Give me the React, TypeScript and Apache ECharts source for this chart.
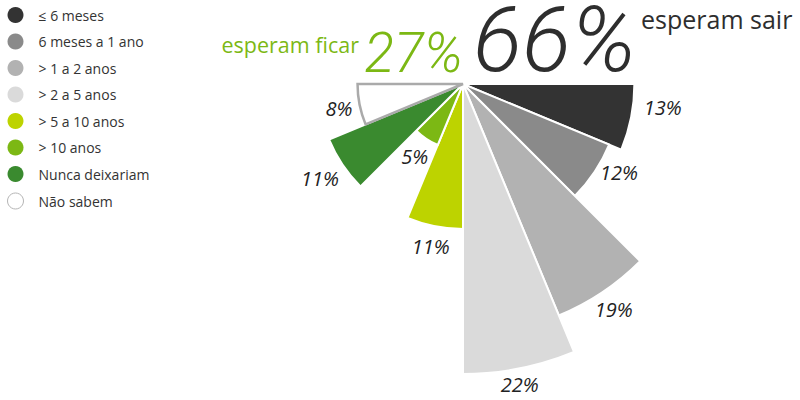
import React, { useEffect, useRef } from "react";
import * as echarts from "echarts";

const categories = [
  "≤ 6 meses",
  "6 meses a 1 ano",
  "> 1 a 2 anos",
  "> 2 a 5 anos",
  "> 5 a 10 anos",
  "> 10 anos",
  "Nunca deixariam",
  "Não sabem",
];
const values = [13, 12, 19, 22, 11, 5, 11, 8];
const colors = ["#333333", "#8a8a8a", "#b2b2b2", "#dadada", "#bdd300", "#7cb814", "#3a8a2f", "#ffffff"];
// empty upper half of the circle (the chart is a half rose)
const emptySlots = ["e1", "e2", "e3", "e4", "e5", "e6", "e7", "e8"];
const leaveTotal = "66%";
const stayTotal = "27%";
const leaveText = "esperam sair";
const stayText = "esperam ficar";

const FONT = "'Open Sans', 'Noto Sans', sans-serif";
const BIG = "Roboto, 'Open Sans', sans-serif";
const GREEN = "#7cb814";
const DARK = "#2e2e2e";

export default function App() {
  const ref = useRef<HTMLDivElement>(null);
  useEffect(() => {
    if (!ref.current) return;
    const chart = echarts.init(ref.current, null, { renderer: "svg" });
    const slots = categories.concat(emptySlots);
    const last = categories.length - 1;
    const labelOffsets: Record<number, number[]> = { 0: [11, -14], 1: [7, -11], 3: [-4, -5], 6: [-5, 2] };
    const series = categories.map((name, i) => ({
      type: "bar",
      name,
      coordinateSystem: "polar",
      stack: "rose",
      barCategoryGap: "0%",
      silent: true,
      itemStyle:
        i === last
          ? { color: colors[i], borderColor: "#aaaaaa", borderWidth: 2.5 }
          : { color: colors[i], borderColor: "#ffffff", borderWidth: 2 },
      label: {
        show: true,
        position: "end",
        distance: 21,
        rotate: 0,
        align: "center",
        verticalAlign: "middle",
        formatter: "{c}%",
        fontSize: 20,
        fontStyle: "italic",
        fontFamily: FONT,
        color: "#222",
        offset: labelOffsets[i] || [0, 0],
      },
      data: slots.map((_, j) => (j === i ? values[i] : "-")),
    }));
    chart.setOption({
      animation: false,
      textStyle: { fontFamily: FONT },
      polar: { center: [463, 84], radius: [0, 290] },
      angleAxis: {
        type: "category",
        data: slots,
        startAngle: 0,
        clockwise: true,
        show: false,
      },
      radiusAxis: { type: "value", min: 0, max: 22, show: false },
      legend: {
        orient: "vertical",
        left: 7,
        top: 7,
        padding: 0,
        icon: "circle",
        itemWidth: 16,
        itemHeight: 16,
        itemGap: 10.5,
        selectedMode: false,
        itemStyle: { borderWidth: 0 },
        textStyle: { fontSize: 14, color: "#333", fontFamily: FONT, padding: [0, 0, 0, 10] },
        data: categories.map((name, i) =>
          i === last
            ? { name, itemStyle: { color: "#fff", borderColor: "#b5b5b5", borderWidth: 1 } }
            : { name }
        ),
      },
      graphic: [
        {
          type: "text",
          x: 473,
          y: 40,
          style: {
            text: leaveTotal,
            fontSize: 91,
            lineHeight: 76,
            fontStyle: "italic",
            fontWeight: 300,
            fontFamily: BIG,
            fill: DARK,
            verticalAlign: "middle",
          },
        },
        {
          type: "text",
          x: 641,
          y: 19,
          style: { text: leaveText, fontSize: 25, fontFamily: FONT, fill: DARK, verticalAlign: "middle" },
        },
        {
          type: "text",
          x: 463,
          y: 52.5,
          style: {
            text: stayTotal,
            fontSize: 55,
            lineHeight: 50,
            fontStyle: "italic",
            fontWeight: 300,
            fontFamily: BIG,
            fill: GREEN,
            align: "right",
            verticalAlign: "middle",
          },
        },
        {
          type: "text",
          x: 359,
          y: 44,
          style: { text: stayText, fontSize: 21.5, fontFamily: FONT, fill: GREEN, align: "right", verticalAlign: "middle" },
        },
      ],
      series,
    });
    return () => chart.dispose();
  }, []);
  return <div ref={ref} style={{ position: "absolute", left: 0, top: 0, width: 800, height: 400 }} />;
}
